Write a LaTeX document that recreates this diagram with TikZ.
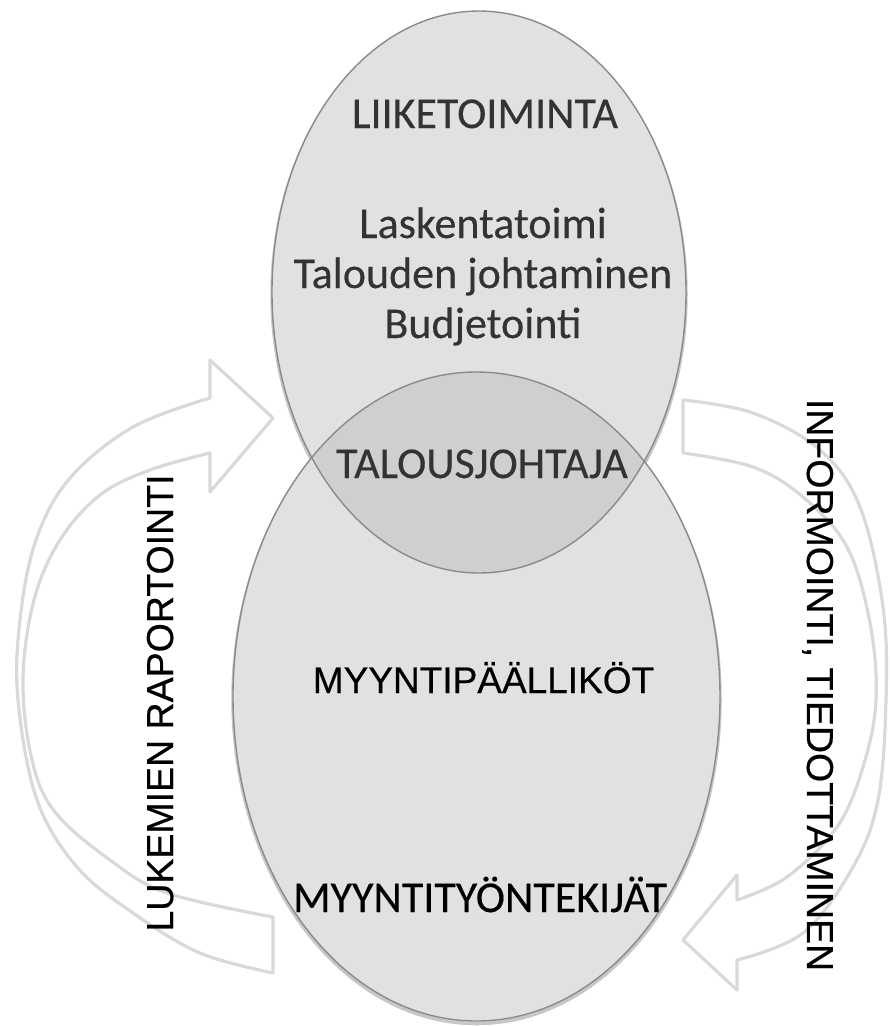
\documentclass[tikz,border=0pt]{standalone}
\usepackage{fontspec}
\setmainfont{Carlito}
\newfontfamily\arialfont[FakeBold=0.5]{Liberation Sans}
\newfontfamily\calfont[FakeBold=0.3]{Carlito}
\definecolor{ringfill}{HTML}{E1E1E1}
\definecolor{lensfill}{HTML}{CFCFCF}
\definecolor{ringedge}{HTML}{8A8A8A}
\definecolor{arrowedge}{HTML}{D9D9D9}
\definecolor{softtext}{HTML}{333333}
\begin{document}
\begin{tikzpicture}[x=1pt,y=-1pt,
  blockarrow/.style={draw=arrowedge, line width=3.2pt, fill=white, line join=round},
  ringshadow/.style={draw=black, draw opacity=0.22, line width=3.5pt},
  ringline/.style={draw=ringedge, line width=1.4pt},
  caltext/.style={inner sep=0pt, anchor=base, font=\calfont\fontsize{44}{52}\selectfont},
  grayword/.style={caltext, text=softtext},
  arialword/.style={inner sep=0pt, anchor=base, font=\arialfont\fontsize{37}{44}\selectfont},
  sideword/.style={inner sep=0pt, anchor=base, font=\arialfont\fontsize{37.5}{44}\selectfont}]
\useasboundingbox (0,0) rectangle (890,1026);

% left curved block arrow, rising towards the upper circle
\draw[blockarrow]
  plot[smooth, tension=0.6] coordinates {(273,973) (200,953) (133,913) (77,867) (37,800) (18,700) (20,620) (36,540) (70,478) (133,427) (210,398)}
  -- (210,360) -- (273,418) -- (210,492)
  -- plot[smooth, tension=0.6] coordinates {(210,453) (150,470) (100,495) (60,540) (34,600) (23,680) (32,760) (55,812) (110,860) (167,893) (273,917)}
  -- cycle;

% right curved block arrow, descending towards the lower circle
\draw[blockarrow]
  plot[smooth, tension=0.6] coordinates {(683,400) (753,413) (820,450) (860,507) (883,607) (886,700) (878,800) (853,867) (803,933) (737,960)}
  -- (737,990) -- (683,940) -- (737,875)
  -- plot[smooth, tension=0.6] coordinates {(737,900) (787,877) (837,827) (863,767) (876,700) (870,623) (847,547) (803,497) (753,467) (683,453)}
  -- cycle;

% soft shadows under the two ovals
\draw[ringshadow] (476.5,699) ellipse [x radius=243.5, y radius=324.5];
\draw[ringshadow] (479,294.5) ellipse [x radius=207, y radius=281];

% oval fills
\fill[ringfill] (476.5,696.5) ellipse [x radius=243.5, y radius=324.5];
\fill[ringfill] (479,292) ellipse [x radius=207, y radius=281];

% darker overlap of the two ovals
\begin{scope}
  \clip (479,292) ellipse [x radius=207, y radius=281];
  \fill[lensfill] (476.5,696.5) ellipse [x radius=243.5, y radius=324.5];
\end{scope}

% oval outlines
\draw[ringline] (476.5,696.5) ellipse [x radius=243.5, y radius=324.5];
\draw[ringline] (479,292) ellipse [x radius=207, y radius=281];

% texts inside the ovals
\node[grayword] (liike) at (485,128) {LIIKETOIMINTA};
\node[grayword] (lask) at (483,238) {Laskentatoimi};
\node[grayword] (talj) at (483,288) {Talouden johtaminen};
\node[grayword] (budj) at (483,338) {Budjetointi};
\node[grayword] (tjoht) at (482,478) {TALOUSJOHTAJA};
\node[arialword] (mpaal) at (483.5,693) {MYYNTIPÄÄLLIKÖT};
\node[caltext] (mtyon) at (480,912) {MYYNTITYÖNTEKIJÄT};

% vertical side labels
\node[sideword, rotate=90] (lukem) at (173,703) {LUKEMIEN RAPORTOINTI};
\node[sideword, rotate=-90] (inform) at (807,685) {INFORMOINTI, TIEDOTTAMINEN};
\end{tikzpicture}
\end{document}
